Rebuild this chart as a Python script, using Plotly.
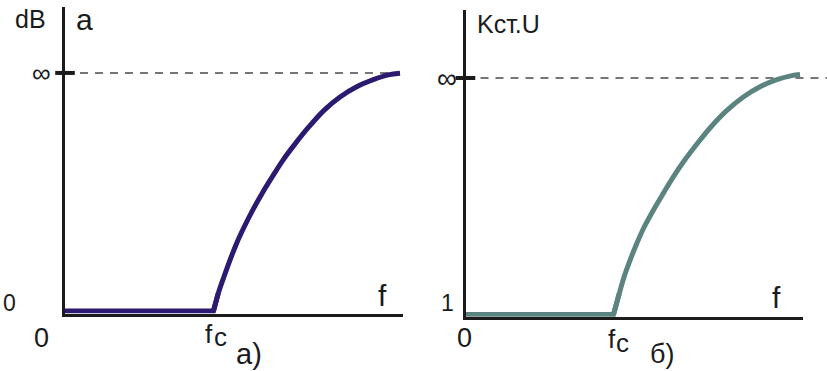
import plotly.graph_objects as go

# ---- data -------------------------------------------------------------
# (a) attenuation a, dB, versus frequency f (f in units of the cutoff fc,
#     level 1 marks the "infinity" asymptote)
att_f = [0.0, 1.0, 1.032, 1.071, 1.111, 1.156, 1.207, 1.264, 1.327, 1.396,
         1.468, 1.552, 1.643, 1.744, 1.852, 1.964, 2.076, 2.177, 2.256]
att_a = [0.0, 0.0, 0.074, 0.145, 0.214, 0.285, 0.354, 0.424, 0.494, 0.564,
         0.634, 0.704, 0.774, 0.843, 0.899, 0.942, 0.972, 0.992, 0.999]

# (б) standing-wave ratio Kст.U versus frequency f
swr_f = [0.0, 1.0, 1.039, 1.071, 1.112, 1.157, 1.208, 1.269, 1.336, 1.404,
         1.481, 1.566, 1.659, 1.764, 1.877, 1.990, 2.103, 2.204, 2.260]
swr_k = [0.0, 0.0, 0.089, 0.159, 0.230, 0.300, 0.371, 0.441, 0.512, 0.582,
         0.653, 0.723, 0.794, 0.862, 0.920, 0.963, 0.993, 1.010, 1.015]

inf_level = 1.0           # the asymptote, drawn dashed and labelled "∞"
y_tick_text_a = ["0", "∞"]
y_tick_text_b = ["1", "∞"]
x_tick_text = ["0", "f", "c"]
titles_a = ["dB", "a"]
title_b = "Kст.U"
captions = ["а)", "б)"]

# ---- layout helpers ---------------------------------------------------
W, H = 827, 371
FONT = "Liberation Sans, Arial, sans-serif"
INK = "#1b1b1b"
C_A = "#2c1a72"
C_B = "#5b8481"


def px(x):
    return x / W


def py(y):
    return 1 - y / H


def label(text, x, y, size, xanchor="center", yanchor="middle"):
    return dict(text=text, x=px(x), y=py(y), xref="paper", yref="paper",
                xanchor=xanchor, yanchor=yanchor, showarrow=False,
                font=dict(family=FONT, size=size, color=INK))


def add_response(fig, f, v, color, xa, ya):
    # flat pass band up to fc (straight), then the smooth rise
    fig.add_trace(go.Scatter(x=f[:3], y=v[:3], mode="lines",
                             line=dict(color=color, width=5),
                             xaxis=xa, yaxis=ya, hoverinfo="skip"))
    fig.add_trace(go.Scatter(x=f[1:], y=v[1:], mode="lines",
                             line=dict(color=color, width=5,
                                       shape="spline", smoothing=1),
                             xaxis=xa, yaxis=ya, hoverinfo="skip"))


fig = go.Figure()
add_response(fig, att_f, att_a, C_A, "x", "y")
add_response(fig, swr_f, swr_k, C_B, "x2", "y2")

# short tick crossing each vertical axis at the asymptote level
for xa, ya in (("x", "y"), ("x2", "y2")):
    fig.add_trace(go.Scatter(x=[0], y=[inf_level], mode="markers",
                             marker=dict(symbol="line-ew", size=14,
                                         line=dict(width=4, color=INK)),
                             cliponaxis=False, xaxis=xa, yaxis=ya,
                             hoverinfo="skip"))

axis_common = dict(showline=True, linecolor=INK, linewidth=3,
                   showgrid=False, zeroline=False, showticklabels=False,
                   ticks="", fixedrange=True)

fig.update_layout(
    width=W, height=H,
    margin=dict(l=0, r=0, t=0, b=0),
    paper_bgcolor="white", plot_bgcolor="rgba(0,0,0,0)",
    showlegend=False,
    xaxis=dict(domain=[px(65), px(403)], range=[0, 2.276],
               anchor="y", **axis_common),
    yaxis=dict(domain=[py(313.5), py(7)], range=[-0.0105, 1.277],
               anchor="x", **axis_common),
    xaxis2=dict(domain=[px(465.5), px(803)], range=[0, 2.280],
                anchor="y2", **axis_common),
    yaxis2=dict(domain=[py(316.7), py(10)], range=[-0.0093, 1.2875],
                anchor="x2", **axis_common),
)

dash = dict(color="#4a4a4a", width=1.5, dash="8px,7px")
fig.add_shape(type="line", xref="x", yref="y", x0=0, x1=att_f[-1],
              y0=inf_level, y1=inf_level, line=dash, layer="below")
fig.add_shape(type="line", xref="paper", yref="y2", x0=px(465.5), x1=1,
              y0=inf_level, y1=inf_level, line=dash, layer="below")

ann = [
    # panel a
    label(titles_a[0], 30, 19.5, 25),
    label(titles_a[1], 84.5, 19.5, 30),
    label(y_tick_text_a[1], 41, 72.5, 26),
    label(y_tick_text_a[0], 9.2, 303.3, 23),
    label(x_tick_text[0], 41.7, 337.7, 27),
    label(x_tick_text[1], 209, 334, 26),
    label(x_tick_text[2], 220, 336.5, 26),
    label("f", 382.5, 295.5, 30),
    label(captions[0], 249, 354, 29),
    # panel б
    label(title_b, 508.5, 24, 25),
    label(y_tick_text_b[1], 447, 78, 28),
    label(y_tick_text_b[0], 447.3, 303.3, 23),
    label(x_tick_text[0], 464.2, 338, 27),
    label(x_tick_text[1], 612, 338.5, 26),
    label(x_tick_text[2], 622, 343, 26),
    label("f", 776, 297.5, 30),
    label(captions[1], 661.5, 353.5, 27),
]
fig.update_layout(annotations=ann)

fig.write_html("out.html")
